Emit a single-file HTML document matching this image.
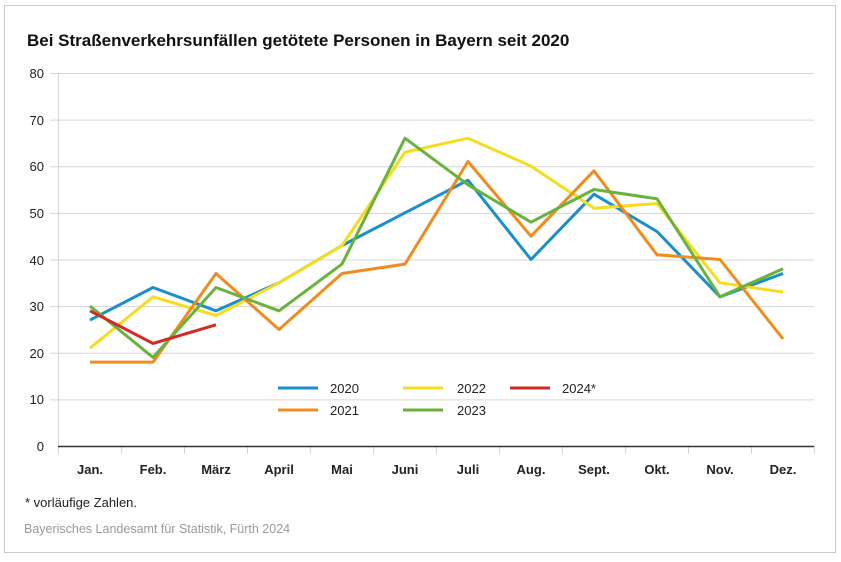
<!DOCTYPE html>
<html><head><meta charset="utf-8"><style>
body{margin:0;background:#fff;}
svg text{font-family:"Liberation Sans",sans-serif;}
</style></head><body>
<svg width="841" height="557" viewBox="0 0 841 557" xmlns="http://www.w3.org/2000/svg">
<rect x="4.5" y="5.5" width="831" height="547" fill="#fff" stroke="#ccc" stroke-width="1"/>
<text x="27" y="46" font-size="17" font-weight="bold" fill="#111">Bei Straßenverkehrsunfällen getötete Personen in Bayern seit 2020</text>
<g stroke="#d6d6d6" stroke-width="1">
<line x1="50" y1="73.5" x2="814" y2="73.5"/><line x1="50" y1="120.1" x2="814" y2="120.1"/>
<line x1="50" y1="166.8" x2="814" y2="166.8"/><line x1="50" y1="213.4" x2="814" y2="213.4"/>
<line x1="50" y1="260" x2="814" y2="260"/><line x1="50" y1="306.6" x2="814" y2="306.6"/>
<line x1="50" y1="353.3" x2="814" y2="353.3"/><line x1="50" y1="399.9" x2="814" y2="399.9"/>
<line x1="58.5" y1="73" x2="58.5" y2="446"/>
<line x1="58.5" y1="446" x2="58.5" y2="454"/><line x1="121.5" y1="446" x2="121.5" y2="454"/><line x1="184.5" y1="446" x2="184.5" y2="454"/><line x1="247.5" y1="446" x2="247.5" y2="454"/><line x1="310.5" y1="446" x2="310.5" y2="454"/><line x1="373.5" y1="446" x2="373.5" y2="454"/><line x1="436.5" y1="446" x2="436.5" y2="454"/><line x1="499.5" y1="446" x2="499.5" y2="454"/><line x1="562.5" y1="446" x2="562.5" y2="454"/><line x1="625.5" y1="446" x2="625.5" y2="454"/><line x1="688.5" y1="446" x2="688.5" y2="454"/><line x1="751.5" y1="446" x2="751.5" y2="454"/><line x1="814.5" y1="446" x2="814.5" y2="454"/>
</g>
<line x1="58" y1="446.5" x2="814" y2="446.5" stroke="#333" stroke-width="1.5"/>
<g font-size="13" fill="#222" text-anchor="end">
<text x="44" y="78">80</text><text x="44" y="125">70</text><text x="44" y="171">60</text><text x="44" y="218">50</text><text x="44" y="265">40</text><text x="44" y="311">30</text><text x="44" y="358">20</text><text x="44" y="404">10</text><text x="44" y="451">0</text>
</g>
<g font-size="13" font-weight="bold" fill="#222" text-anchor="middle">
<text x="90" y="474">Jan.</text><text x="153" y="474">Feb.</text><text x="216" y="474">März</text><text x="279" y="474">April</text><text x="342" y="474">Mai</text><text x="405" y="474">Juni</text><text x="468" y="474">Juli</text><text x="531" y="474">Aug.</text><text x="594" y="474">Sept.</text><text x="657" y="474">Okt.</text><text x="720" y="474">Nov.</text><text x="783" y="474">Dez.</text>
</g>
<g fill="none" stroke-width="3" stroke-linejoin="round">
<polyline stroke="#1b8fc9" points="90,320.1 153,287.5 216,310.8 279,282.8 342,245.5 405,212.8 468,180.2 531,259.5 594,194.2 657,231.5 720,296.8 783,273.5"/>
<polyline stroke="#f7dc1e" points="90,348.1 153,296.8 216,315.5 279,282.8 342,245.5 405,152.1 468,138.2 531,166.1 594,208.2 657,203.5 720,282.8 783,292.1"/>
<polyline stroke="#f08c1e" points="90,362.1 153,362.1 216,273.5 279,329.5 342,273.5 405,264.1 468,161.5 531,236.2 594,170.8 657,254.8 720,259.5 783,338.8"/>
<polyline stroke="#6ab23e" points="90,306.1 153,357.4 216,287.5 279,310.8 342,264.1 405,138.2 468,184.8 531,222.2 594,189.5 657,198.8 720,296.8 783,268.8"/>
<polyline stroke="#d52a22" points="90,310.8 153,343.4 216,324.8"/>
</g>
<g stroke-width="3">
<line x1="278" y1="388" x2="318" y2="388" stroke="#1b8fc9"/>
<line x1="278" y1="410" x2="318" y2="410" stroke="#f08c1e"/>
<line x1="403" y1="388" x2="443" y2="388" stroke="#f7dc1e"/>
<line x1="403" y1="410" x2="443" y2="410" stroke="#6ab23e"/>
<line x1="510" y1="388" x2="550" y2="388" stroke="#d52a22"/>
</g>
<g font-size="13" fill="#222">
<text x="330" y="393">2020</text><text x="330" y="415">2021</text>
<text x="457" y="393">2022</text><text x="457" y="415">2023</text>
<text x="562" y="393">2024*</text>
</g>
<text x="25" y="507" font-size="13" fill="#222">* vorläufige Zahlen.</text>
<text x="24" y="533" font-size="12.5" fill="#999">Bayerisches Landesamt für Statistik, Fürth 2024</text>
</svg>
</body></html>
